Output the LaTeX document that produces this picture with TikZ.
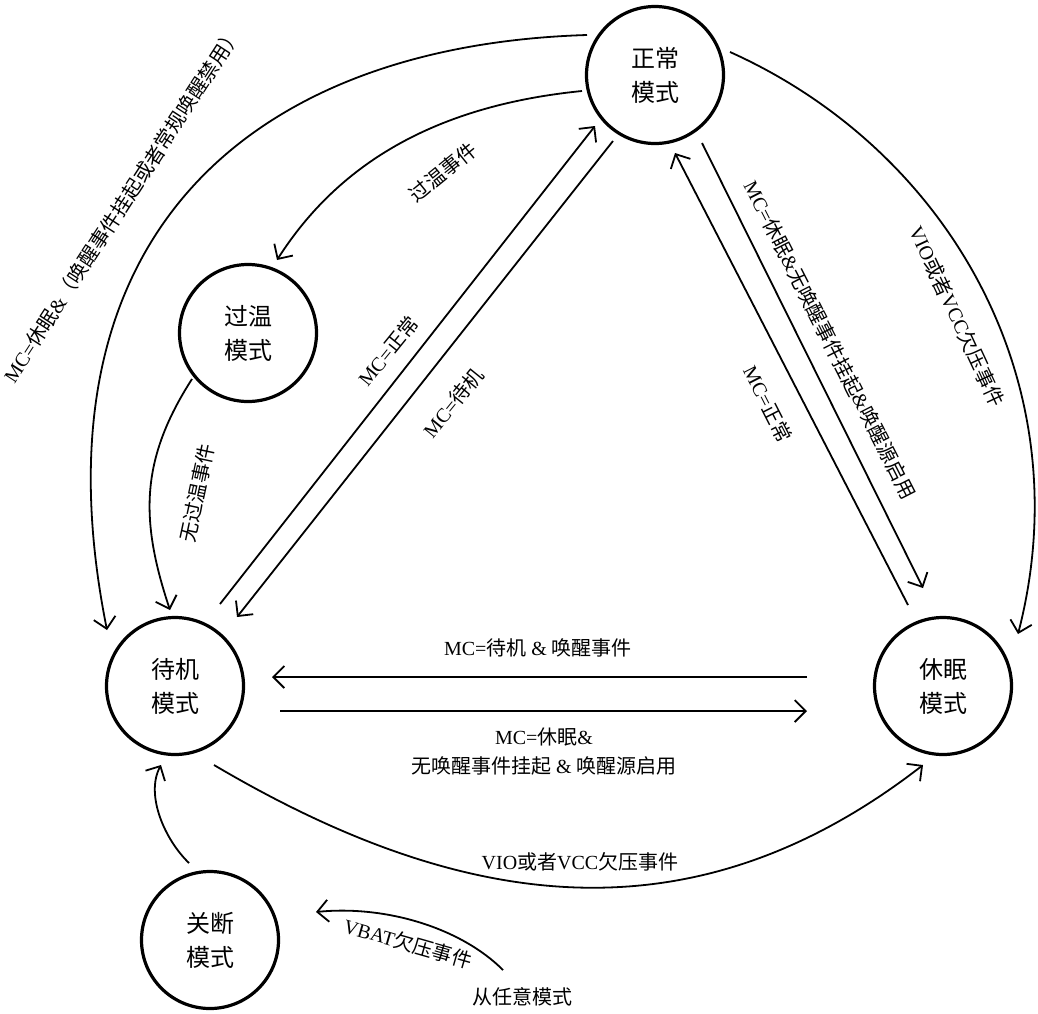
\documentclass[tikz,border=0pt]{standalone}
\usepackage{fontspec}
\setmainfont{Liberation Serif}
\newfontfamily\cjkf{Noto Sans CJK SC}
\newcommand\zhs[1]{{\cjkf #1}}
\usetikzlibrary{arrows.meta}
\begin{document}
\begin{tikzpicture}[x=1pt,y=-1pt,
  state/.style={circle,draw,line width=3.2pt,minimum size=137pt,inner sep=0pt,align=center,
    font=\cjkf\fontsize{24}{34}\selectfont},
  arr/.style={line width=1.8pt,-{Straight Barb[length=11pt,width=22pt,line width=1.8pt]}},
  lab/.style={font=\fontsize{20}{29}\selectfont,inner sep=0pt,align=center}]
\useasboundingbox (0,0) rectangle (1038,1013);

\node[state] (N) at (655,75) {正常\\模式};
\node[state] (O) at (248,333) {过温\\模式};
\node[state] (S) at (175,686) {待机\\模式};
\node[state] (L) at (943,686) {休眠\\模式};
\node[state] (D) at (210,940) {关断\\模式};
\node[lab] (any) at (522,997) {\zhs{从任意模式}};

% N -> S big arc
\draw[arr] ([shift={(-68,-40)}]N.center) .. controls (257,45) and (27,230) .. ([shift={(-68,-56)}]S.center);
\node[lab,rotate=57] (tA) at (122,205) {MC=\zhs{休眠}\&\zhs{（唤醒事件挂起或者常规唤醒禁用）}};

% N -> O
\draw[arr] ([shift={(-73,16)}]N.center) .. controls (432,106) and (337,166) .. ([shift={(29,-73)}]O.center);
\node[lab,rotate=39] (tB) at (443,172) {\zhs{过温事件}};

% O -> S
\draw[arr] ([shift={(-56,46)}]O.center) .. controls (140,460) and (140,520) .. ([shift={(-5,-76)}]S.center);
\node[lab,rotate=78] (tC) at (197,493) {\zhs{无过温事件}};

% S <-> N
\draw[arr] ([shift={(45,-82)}]S.center) -- ([shift={(-60,51)}]N.center);
\draw[arr] ([shift={(-42,66)}]N.center) -- ([shift={(62,-69)}]S.center);
\node[lab,rotate=51] (tD) at (388,351) {MC=\zhs{正常}};
\node[lab,rotate=51] (tE) at (453,403) {MC=\zhs{待机}};

% L <-> N
\draw[arr] ([shift={(-35,-81)}]L.center) -- ([shift={(20,78)}]N.center);
\draw[arr] ([shift={(47,68)}]N.center) -- ([shift={(-20,-98)}]L.center);
\node[lab,rotate=-63] (tF) at (768,404) {MC=\zhs{正常}};
\node[lab,rotate=-63] (tG) at (830,340) {MC=\zhs{休眠}\&\zhs{无唤醒事件挂起}\&\zhs{唤醒源启用}};

% N -> L big arc
\draw[arr] ([shift={(75,-23)}]N.center) .. controls (948,150) and (1083,382) .. ([shift={(75,-52)}]L.center);
\node[lab,rotate=-65] (tH) at (957,316) {VIO\zhs{或者}VCC\zhs{欠压事件}};

% L <-> S horizontal
\draw[arr] ([shift={(-136,-9)}]L.center) -- ([shift={(97,-9)}]S.center);
\draw[arr] ([shift={(105,25)}]S.center) -- ([shift={(-136,25)}]L.center);
\node[lab] (tI) at (538,648) {MC=\zhs{待机} \& \zhs{唤醒事件}};
\node[lab] (tJ) at (544,752) {MC=\zhs{休眠}\&\\\zhs{无唤醒事件挂起} \& \zhs{唤醒源启用}};

% S -> L bottom arc
\draw[arr] ([shift={(39,79)}]S.center) .. controls (463,912) and (692,944) .. ([shift={(-20,79)}]L.center);
\node[lab] (tK) at (580,862) {VIO\zhs{或者}VCC\zhs{欠压事件}};

% D -> S
\draw[arr] ([shift={(-21,-77)}]D.center) .. controls (165,840) and (145,795) .. ([shift={(-14,79)}]S.center);

% any -> D
\draw[arr] ([shift={(-19,-27)}]any.center) .. controls (461,928) and (386,905) .. ([shift={(106,-28)}]D.center);
\node[lab,rotate=-16] (tV) at (408,943) {VBAT\zhs{欠压事件}};
\end{tikzpicture}
\end{document}
